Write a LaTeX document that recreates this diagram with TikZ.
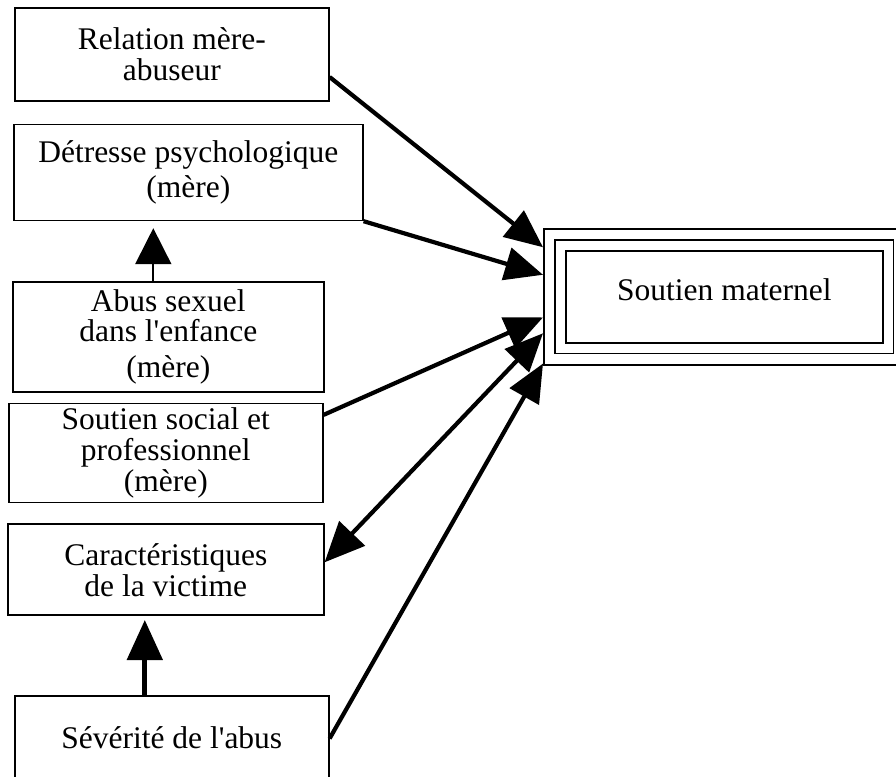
\documentclass[tikz,border=0pt]{standalone}
\usepackage{fontspec}
\setmainfont{Liberation Serif}[Ligatures=TeXOff]
\usetikzlibrary{arrows.meta, positioning, calc}

\begin{document}
\begin{tikzpicture}[
  x=1pt, y=-1pt,
  factor/.style={draw, line width=1.6pt, align=center, inner sep=0pt,
                 font=\fontsize{31.5}{31}\selectfont, anchor=north west},
  arr/.style={-{Triangle[length=38pt, width=33pt]}, line width=4.2pt},
  dblarr/.style={{Triangle[length=40pt, width=35pt]}-{Triangle[length=38pt, width=33pt]}, line width=4.2pt},
  thinarr/.style={-{Triangle[length=36pt, width=36pt]}, line width=1.8pt},
  node distance=22pt and 0pt
]
  \useasboundingbox (0,0) rectangle (896,776);
  \clip (0,0) rectangle (896,776);

  % left column
  \node[factor, minimum width=314pt, minimum height=93pt] (rel) at (14,7) {Relation mère-\\abuseur};
  \node[factor, minimum width=349pt, minimum height=96pt, below=22pt of rel.south west, anchor=north west, xshift=-1pt] (det) {Détresse psychologique\\[4pt](mère)};
  \node[factor, minimum width=311pt, minimum height=110pt, below=60pt of det.south west, anchor=north west, xshift=-1pt] (abus) {Abus sexuel\\[-1pt]dans l'enfance\\[5pt](mère)};
  \node[factor, minimum width=314pt, minimum height=99pt, below=10pt of abus.south west, anchor=north west, xshift=-4pt] (sout) {Soutien social et\\professionnel\\(mère)};
  \node[factor, minimum width=316pt, minimum height=91pt, below=20pt of sout.south west, anchor=north west, xshift=-1pt] (car) {Caractéristiques\\de la victime};
  \node[factor, minimum width=314pt, text height=53pt, text depth=60pt, below=79pt of car.south west, anchor=north west, xshift=7pt] (sev) {Sévérité de l'abus};

  % outcome
  \node[factor, minimum width=361pt, minimum height=136pt, text depth=14pt] (mat) at (543,228) {Soutien maternel};
  \draw[line width=1.8pt, double, double distance=9pt] ([shift={(17.5pt,-17.5pt)}]mat.north west) rectangle ([shift={(-17.5pt,17.5pt)}]mat.south east);

  \draw[arr] ($(rel.north east)!0.74!(rel.south east)$) -- ($(mat.north west)!0.14!(mat.south west)$);
  \draw[arr] (det.south east) -- ($(mat.north west)!0.34!(mat.south west)$);
  \draw[arr] ($(sout.north east)!0.12!(sout.south east)$) -- ($(mat.north west)!0.65!(mat.south west)$);
  \draw[dblarr] ($(car.north east)!0.42!(car.south east)$) -- ($(mat.north west)!0.765!(mat.south west)$);
  \draw[arr] ($(sev.north east)!0.38!(sev.south east)$) -- ($(mat.north west)!0.985!(mat.south west)$);

  \draw[thinarr, shorten >=7pt] ([xshift=-15pt]abus.north) -- ([xshift=-15pt]abus.north |- det.south);
  \draw[-{Triangle[length=40pt, width=35pt]}, line width=5pt, shorten >=4pt] ([xshift=-27pt]sev.north) -- ([xshift=-27pt]sev.north |- car.south);
\end{tikzpicture}
\end{document}
